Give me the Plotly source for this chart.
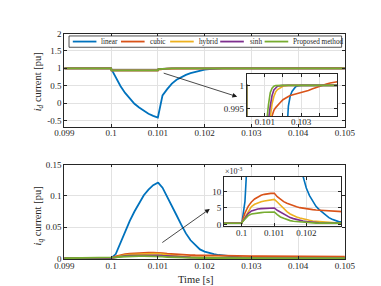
import plotly.graph_objects as go

# ---------------- data ----------------
t = [0.099, 0.1, 0.10001,
     0.1001, 0.1002, 0.1003, 0.1004, 0.1005, 0.1006, 0.1007, 0.1008, 0.1009, 0.101,
     0.10101,
     0.1011, 0.1012, 0.1013, 0.1014, 0.1015, 0.1016, 0.1017, 0.1018, 0.1019, 0.102,
     0.1021, 0.1022, 0.1023, 0.1024, 0.1025, 0.1026, 0.1027, 0.1028, 0.1029, 0.103,
     0.1032, 0.1034, 0.1036, 0.1038, 0.104, 0.1042, 0.1044, 0.1046, 0.1048, 0.105]

series_names = ["linear", "cubic", "hybrid", "sinh", "Proposed method"]
series_colors = ["#0072BD", "#D95319", "#EDB120", "#7E2F8E", "#77AC30"]

id_linear = [1.0, 1.0, 0.97,
             0.72, 0.49, 0.29, 0.12, -0.02, -0.13, -0.23, -0.31, -0.37, -0.42,
             -0.36,
             0.22, 0.40, 0.56, 0.67, 0.75, 0.81, 0.86, 0.90, 0.935, 0.962,
             0.978, 0.989, 0.9955, 0.9977, 0.9987, 0.9993, 0.9997, 0.99985, 0.99995, 1.0,
             1.0, 1.0, 1.0, 1.0, 1.0, 1.0, 1.0, 1.0, 1.0, 1.0]
id_cubic = [1.0, 1.0, 0.94,
            0.94, 0.94, 0.94, 0.94, 0.94, 0.94, 0.94, 0.94, 0.94, 0.94,
            0.965,
            0.982, 0.988, 0.9922, 0.9937, 0.9946, 0.9952, 0.9957, 0.9961, 0.9965, 0.9969,
            0.9972, 0.9974, 0.9976, 0.9978, 0.9979, 0.9981, 0.9982, 0.9983, 0.9984, 0.9985,
            0.9987, 0.9989, 0.9992, 0.9995, 0.9998, 1.0001, 1.0003, 1.0005, 1.0007, 1.0008]
id_hybrid = [1.0, 1.0, 0.94,
             0.94, 0.94, 0.94, 0.94, 0.94, 0.94, 0.94, 0.94, 0.94, 0.94,
             0.97,
             0.984, 0.989, 0.9930, 0.9960, 0.9976, 0.9986, 0.9991, 0.9994, 0.9996, 0.9998,
             0.9999, 1.0, 1.0, 1.0, 1.0, 1.0, 1.0, 1.0, 1.0, 1.0,
             1.0, 1.0, 1.0, 1.0, 1.0, 1.0, 1.0, 1.0, 1.0, 1.0]
id_sinh = [1.0, 1.0, 0.94,
           0.94, 0.94, 0.94, 0.94, 0.94, 0.94, 0.94, 0.94, 0.94, 0.94,
           0.975,
           0.988, 0.9925, 0.9955, 0.9978, 0.9990, 0.9995, 0.9998, 0.9999, 1.0, 1.0,
           1.0, 1.0, 1.0, 1.0, 1.0, 1.0, 1.0, 1.0, 1.0, 1.0,
           1.0, 1.0, 1.0, 1.0, 1.0, 1.0, 1.0, 1.0, 1.0, 1.0]
id_proposed = [1.0, 1.0, 0.94,
               0.94, 0.94, 0.94, 0.94, 0.94, 0.94, 0.94, 0.94, 0.94, 0.94,
               0.98,
               0.9920, 0.9958, 0.9984, 0.9994, 0.9998, 0.99995, 1.0, 1.0, 1.0, 1.0,
               1.0, 1.0, 1.0, 1.0, 1.0, 1.0, 1.0, 1.0, 1.0, 1.0,
               1.0, 1.0, 1.0, 1.0, 1.0, 1.0, 1.0, 1.0, 1.0, 1.0]

iq_linear = [0.0004, 0.0004, 0.0008,
             0.007, 0.025, 0.043, 0.060, 0.075, 0.089, 0.101, 0.110, 0.117, 0.121,
             0.1208,
             0.113, 0.099, 0.085, 0.069, 0.054, 0.040, 0.029, 0.021, 0.0145, 0.0110,
             0.0087, 0.0070, 0.0055, 0.0045, 0.0036, 0.0028, 0.0021, 0.0016, 0.0012, 0.0009,
             0.0006, 0.0005, 0.0005, 0.0004, 0.0004, 0.0004, 0.0004, 0.0004, 0.0004, 0.0004]
iq_cubic = [0.0004, 0.0004, 0.0008,
            0.0035, 0.0055, 0.0068, 0.0077, 0.0083, 0.0088, 0.0091, 0.0093, 0.0094, 0.0094,
            0.0094,
            0.0084, 0.0075, 0.0069, 0.0064, 0.0060, 0.0057, 0.0054, 0.0051, 0.0049, 0.0048,
            0.0046, 0.0045, 0.0044, 0.0043, 0.0042, 0.0041, 0.0040, 0.0039, 0.0038, 0.0037,
            0.0036, 0.0034, 0.0033, 0.0032, 0.0031, 0.0030, 0.0029, 0.0028, 0.0028, 0.0027]
iq_hybrid = [0.0004, 0.0004, 0.0007,
             0.0022, 0.0040, 0.0054, 0.0061, 0.0066, 0.0069, 0.0071, 0.0073, 0.0075, 0.0076,
             0.0076,
             0.0068, 0.0058, 0.0048, 0.0039, 0.0032, 0.0027, 0.0023, 0.0020, 0.0017, 0.00145,
             0.0013, 0.0011, 0.0010, 0.0009, 0.0008, 0.0007, 0.00065, 0.0006, 0.00058, 0.00055,
             0.0005, 0.0005, 0.0005, 0.00045, 0.00045, 0.00045, 0.0004, 0.0004, 0.0004, 0.0004]
iq_sinh = [0.0004, 0.0004, 0.0007,
           0.0018, 0.0033, 0.0041, 0.0045, 0.0047, 0.0048, 0.0049, 0.0049, 0.0050, 0.0050,
           0.0050,
           0.0043, 0.0037, 0.0031, 0.0025, 0.0021, 0.0018, 0.0015, 0.0013, 0.0011, 0.00095,
           0.0008, 0.0007, 0.0006, 0.00055, 0.0005, 0.0005, 0.0005, 0.00045, 0.00045, 0.00045,
           0.00045, 0.00045, 0.00045, 0.0004, 0.0004, 0.0004, 0.0004, 0.0004, 0.0004, 0.0004]
iq_proposed = [0.0004, 0.0004, 0.0007,
               0.0016, 0.0027, 0.0032, 0.0034, 0.0035, 0.0036, 0.0037, 0.0037, 0.0038, 0.0038,
               0.0038,
               0.0030, 0.0023, 0.0019, 0.0015, 0.0012, 0.0010, 0.0009, 0.0008, 0.0007, 0.0006,
               0.00055, 0.0005, 0.00045, 0.00045, 0.00045, 0.00045, 0.00045, 0.00045, 0.00045, 0.00045,
               0.00045, 0.00045, 0.00045, 0.00045, 0.00045, 0.00045, 0.00045, 0.00045, 0.00045, 0.00045]

# tick definitions
main_x_ticks = [0.099, 0.1, 0.101, 0.102, 0.103, 0.104, 0.105]
main_x_labels = ["0.099", "0.1", "0.101", "0.102", "0.103", "0.104", "0.105"]
id_y_ticks = [-0.5, 0, 0.5, 1, 1.5, 2]
id_y_labels = ["-0.5", "0", "0.5", "1", "1.5", "2"]
iq_y_ticks = [0, 0.05, 0.1, 0.15]
iq_y_labels = ["0", "0.05", "0.1", "0.15"]
ins1_x_ticks = [0.101, 0.102, 0.103, 0.104]
ins1_x_labels = ["0.101", " ", "0.103", " "]
ins1_y_ticks = [0.995, 1.0]
ins1_y_labels = ["0.995", "1"]
ins2_x_ticks = [0.1, 0.101, 0.102]
ins2_x_labels = ["0.1", "0.101", "0.102"]
ins2_y_ticks = [0, 0.005, 0.01]
ins2_y_labels = ["0", "5", "10"]

# ---------------- figure ----------------
W, H = 381, 286
def px(x):
    return x / W
def py(y):
    return 1 - y / H

FONT = "Liberation Serif"
AX = "#262626"
GRID = "#e2e2e2"

fig = go.Figure()
id_all = [id_linear, id_cubic, id_hybrid, id_sinh, id_proposed]
iq_all = [iq_linear, iq_cubic, iq_hybrid, iq_sinh, iq_proposed]
for name, col, yd, yq in zip(series_names, series_colors, id_all, iq_all):
    fig.add_trace(go.Scatter(x=t, y=yd, mode="lines", name=name, showlegend=False,
                             line=dict(color=col, width=1.8), xaxis="x", yaxis="y"))
    fig.add_trace(go.Scatter(x=t, y=yq, mode="lines", name=name, showlegend=False,
                             line=dict(color=col, width=1.8), xaxis="x2", yaxis="y2"))
for name, col, yd, yq in zip(series_names, series_colors, id_all, iq_all):
    fig.add_trace(go.Scatter(x=t, y=yd, mode="lines", name=name, showlegend=False,
                             line=dict(color=col, width=1.6), xaxis="x3", yaxis="y3"))
    fig.add_trace(go.Scatter(x=t, y=yq, mode="lines", name=name, showlegend=False,
                             line=dict(color=col, width=1.6), xaxis="x4", yaxis="y4"))

def axis(**kw):
    d = dict(showline=True, linecolor=AX, linewidth=0.8, mirror="ticks",
             ticks="inside", ticklen=3, tickcolor=AX, tickwidth=0.8,
             showgrid=True, gridcolor=GRID, gridwidth=0.8, zeroline=False,
             tickmode="array", tickfont=dict(family=FONT, size=9, color=AX))
    d.update(kw)
    return d

fig.update_layout(
    width=W, height=H, margin=dict(l=0, r=0, t=0, b=0),
    paper_bgcolor="white", plot_bgcolor="white", showlegend=False,
    xaxis=axis(domain=[px(49), px(346)], range=[0.099, 0.105], anchor="y",
               tickvals=main_x_ticks, ticktext=main_x_labels, ticklabelstandoff=-3),
    yaxis=axis(domain=[py(118.5), py(21.3)], range=[-0.7, 2], anchor="x",
               tickvals=id_y_ticks, ticktext=id_y_labels),
    xaxis2=axis(domain=[px(49), px(346)], range=[0.099, 0.105], anchor="y2",
                tickvals=main_x_ticks, ticktext=main_x_labels, ticklabelstandoff=-2),
    yaxis2=axis(domain=[py(255), py(157)], range=[-0.001, 0.15], anchor="x2",
                tickvals=iq_y_ticks, ticktext=iq_y_labels),
    xaxis3=axis(domain=[px(242), px(338)], range=[0.1, 0.105], anchor="y3",
                tickvals=ins1_x_ticks, ticktext=ins1_x_labels, ticklabelstandoff=-3),
    yaxis3=axis(domain=[py(107), py(63)], range=[0.99333, 1.0025], anchor="x3",
                tickvals=ins1_y_ticks, ticktext=ins1_y_labels),
    xaxis4=axis(domain=[px(218), px(342)], range=[0.09945, 0.10308], anchor="y4",
                tickvals=ins2_x_ticks, ticktext=ins2_x_labels, ticklabelstandoff=-2),
    yaxis4=axis(domain=[py(221), py(170)], range=[-0.0005, 0.0143], anchor="x4",
                tickvals=ins2_y_ticks, ticktext=ins2_y_labels),
)

ann = []
ann.append(dict(text="<i>i</i><sub><i>d</i></sub> current [pu]", x=px(22), y=py(71),
                xref="paper", yref="paper", xanchor="center", yanchor="middle",
                showarrow=False, textangle=-90,
                font=dict(family=FONT, size=10.5, color=AX)))
ann.append(dict(text="<i>i</i><sub><i>q</i></sub> current [pu]", x=px(22), y=py(210),
                xref="paper", yref="paper", xanchor="center", yanchor="middle",
                showarrow=False, textangle=-90,
                font=dict(family=FONT, size=10.5, color=AX)))
ann.append(dict(text="Time [s]", x=px(188), y=py(276), xref="paper", yref="paper",
                xanchor="center", yanchor="middle",
                showarrow=False, font=dict(family=FONT, size=10.5, color=AX)))
ann.append(dict(text="×10<sup>-3</sup>", x=px(217), y=py(164), xref="paper", yref="paper",
                xanchor="left", yanchor="middle", showarrow=False,
                font=dict(family=FONT, size=8, color=AX)))
# zoom arrows
ann.append(dict(text="", x=px(232), y=py(86.7), xref="paper", yref="paper",
                ax=-75, ay=-24, showarrow=True, arrowhead=2, arrowsize=1.2,
                arrowwidth=0.8, arrowcolor="#1a1a1a", standoff=0))
ann.append(dict(text="", x=px(203), y=py(203), xref="paper", yref="paper",
                ax=-49, ay=34.7, showarrow=True, arrowhead=2, arrowsize=1.2,
                arrowwidth=0.8, arrowcolor="#1a1a1a", standoff=0))

# legend (drawn as a boxed row of samples)
leg_line_x = [58, 109, 161, 214, 261]
leg_text_x = [86, 138, 189, 243, 289]
shapes = [dict(type="rect", xref="paper", yref="paper", x0=px(54), x1=px(342.5),
               y0=py(35.5), y1=py(23.8), line=dict(color=AX, width=0.8),
               fillcolor="white", layer="above")]
for name, col, lx, tx in zip(series_names, series_colors, leg_line_x, leg_text_x):
    shapes.append(dict(type="line", xref="paper", yref="paper", x0=px(lx), x1=px(lx + 25),
                       y0=py(29.6), y1=py(29.6), line=dict(color=col, width=1.8), layer="above"))
    ann.append(dict(text=name, x=px(tx), y=py(29.6), xref="paper", yref="paper",
                    xanchor="left", yanchor="middle", showarrow=False,
                    font=dict(family=FONT, size=7.2, color=AX)))

fig.update_layout(annotations=ann, shapes=shapes)
fig.write_html("out.html")
